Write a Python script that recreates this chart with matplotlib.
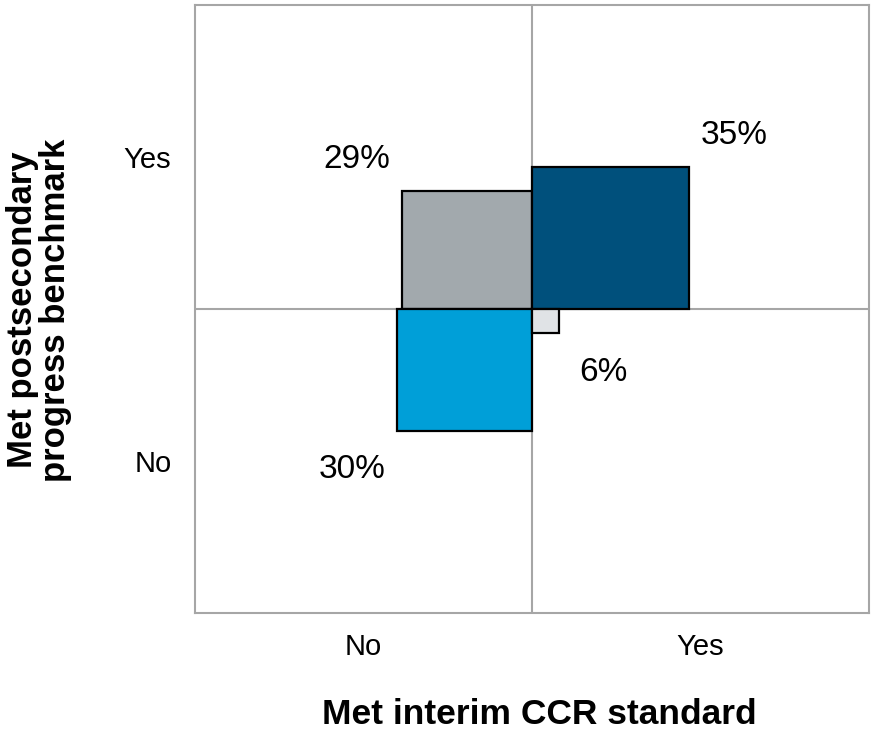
import matplotlib
matplotlib.use("Agg")
import matplotlib.pyplot as plt
from matplotlib.patches import Rectangle

plt.rcParams['font.family'] = ['Liberation Sans', 'DejaVu Sans']

# Data
ccr_met = ["No", "Yes", "No", "Yes"]          # x: Met interim CCR standard
post_met = ["Yes", "Yes", "No", "No"]         # y: Met postsecondary progress benchmark
percents = [29, 35, 30, 6]
colors = ["#A2A9AD", "#00507C", "#009FD8", "#E0E3E6"]
tick_labels = ["No", "Yes"]

fig = plt.figure(figsize=(8.71, 7.31), dpi=100)
ax = fig.add_axes([195/871, 1-613/731, 674/871, 608/731])

lim = 75
ax.set_xlim(-lim, lim)
ax.set_ylim(-lim, lim)

grid_c = "#A6A6A6"
ax.axhline(0, color=grid_c, lw=1.5, zorder=1)
ax.axvline(0, color=grid_c, lw=1.5, zorder=1)

off_x, off_y, shift = 10.0, 8.8, -0.9
for cx, cy, p, c in zip(ccr_met, post_met, percents, colors):
    sx = 1 if cx == "Yes" else -1
    sy = 1 if cy == "Yes" else -1
    x0 = 0 if sx > 0 else -p
    y0 = 0 if sy > 0 else -p
    ax.add_patch(Rectangle((x0, y0), p, p, facecolor=c, edgecolor="black",
                           lw=1.6, zorder=3))
    ax.text(sx * (p + off_x), sy * (p + off_y) + shift, f"{p}%", ha="center",
            va="center", fontsize=24, color="black", zorder=4)

ax.set_xticks([-lim/2, lim/2])
ax.set_xticklabels(tick_labels, fontsize=21)
ax.set_yticks([lim/2, -lim/2])
ax.set_yticklabels(["Yes", "No"], fontsize=21)
ax.tick_params(axis="x", length=0, pad=14.5)
ax.tick_params(axis="y", length=0, pad=17)

for s in ax.spines.values():
    s.set_color(grid_c)
    s.set_linewidth(1.5)

fig.text(539/871, 1-715/731, "Met interim CCR standard", ha="center", va="center",
         fontsize=25.5, fontweight="bold")
fig.text(39/871, 1-310/731, "Met postsecondary\nprogress benchmark", ha="center",
         va="center", rotation=90, fontsize=25, fontweight="bold", linespacing=1.0)

fig.savefig("out.png", dpi=100)
